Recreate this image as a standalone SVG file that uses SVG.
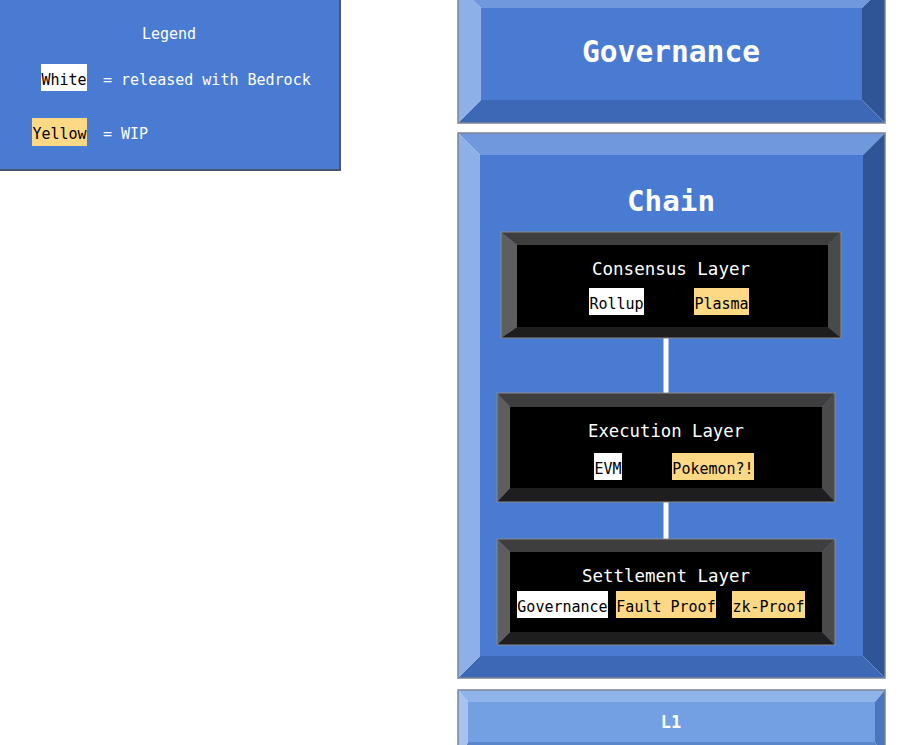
<svg xmlns="http://www.w3.org/2000/svg" width="900" height="745" viewBox="0 0 900 745">
<style>
.t{font-family:"DejaVu Sans Mono","Liberation Mono",monospace;fill:#ffffff;text-anchor:middle}
.s{font-size:15px}
.l{font-family:"DejaVu Sans Mono","Liberation Mono",monospace;font-size:15px;fill:#000000;text-anchor:middle}
.bt{fill:#6f98dd}.bl{fill:#8db0e8}.br{fill:#2f5597}.bb{fill:#3d68b6}.bf{fill:#4a7bd3}
.kt{fill:#3e3e3e}.kl{fill:#5e5e5e}.kr{fill:#4a4a4a}.kb{fill:#1e1e1e}.kf{fill:#000000}
.edge{fill:none;stroke:#7d8594;stroke-width:1.5}
.wp{fill:#ffffff}.yp{fill:#fdd985}
</style>
<rect width="900" height="745" fill="#ffffff"/>

<g id="legend">
<rect x="-2" y="-2" width="342" height="172" fill="#4a7bd3" stroke="#6b7890" stroke-width="2"/>
<path d="M340,-2 V170 H-2" fill="none" stroke="#4a5670" stroke-width="2"/>
<text class="t s" x="169" y="39">Legend</text>
<rect class="wp" x="41" y="64" width="46" height="27"/>
<text class="l" x="64" y="85">White</text>
<text class="t s" x="103" y="85" style="text-anchor:start">= released with Bedrock</text>
<rect class="yp" x="32" y="118" width="55" height="28"/>
<text class="l" x="59.5" y="139">Yellow</text>
<text class="t s" x="103" y="139" style="text-anchor:start">= WIP</text>
</g>

<g id="governance">
<rect class="bf" x="481" y="8" width="381" height="92"/>
<polygon class="bt" points="458,-14 885,-14 862,8 481,8"/>
<polygon class="br" points="885,-14 885,123 862,100 862,8"/>
<polygon class="bb" points="458,123 885,123 862,100 481,100"/>
<polygon class="bl" points="458,-14 481,8 481,100 458,123"/>
<rect class="edge" x="458" y="-14" width="427" height="137"/>
<text class="t" x="671" y="62" font-size="30" font-weight="bold" textLength="178" lengthAdjust="spacingAndGlyphs">Governance</text>
</g>

<g id="chain">
<rect class="bf" x="480" y="155" width="383" height="501"/>
<polygon class="bt" points="458,133 885,133 863,155 480,155"/>
<polygon class="br" points="885,133 885,678 863,656 863,155"/>
<polygon class="bb" points="458,678 885,678 863,656 480,656"/>
<polygon class="bl" points="458,133 480,155 480,656 458,678"/>
<rect class="edge" x="458" y="133" width="427" height="545"/>
<text class="t" x="671" y="211" font-size="29" font-weight="bold" textLength="88" lengthAdjust="spacingAndGlyphs">Chain</text>
</g>

<g id="connectors">
<line x1="666" y1="338" x2="666" y2="394" stroke="#ffffff" stroke-width="5"/>
<line x1="666" y1="502" x2="666" y2="540" stroke="#ffffff" stroke-width="5"/>
</g>

<g id="consensus">
<rect class="kf" x="517" y="245" width="311" height="82"/>
<polygon class="kt" points="501,232 841,232 828,245 517,245"/>
<polygon class="kr" points="841,232 841,338 828,327 828,245"/>
<polygon class="kb" points="501,338 841,338 828,327 517,327"/>
<polygon class="kl" points="501,232 517,245 517,327 501,338"/>
<rect x="501" y="232" width="340" height="106" fill="none" stroke="#8a8a8a" stroke-width="1"/>
<text class="t" x="671" y="275" font-size="17.5" textLength="158" lengthAdjust="spacingAndGlyphs">Consensus Layer</text>
<rect class="wp" x="589" y="288" width="55" height="27"/>
<text class="l" x="616.5" y="309">Rollup</text>
<rect class="yp" x="694" y="288" width="55" height="27"/>
<text class="l" x="721.5" y="309">Plasma</text>
</g>

<g id="execution">
<rect class="kf" x="510" y="407" width="312" height="81"/>
<polygon class="kt" points="497,393 835,393 822,407 510,407"/>
<polygon class="kr" points="835,393 835,502 822,488 822,407"/>
<polygon class="kb" points="497,502 835,502 822,488 510,488"/>
<polygon class="kl" points="497,393 510,407 510,488 497,502"/>
<rect x="497" y="393" width="338" height="109" fill="none" stroke="#8a8a8a" stroke-width="1"/>
<text class="t" x="666" y="437" font-size="17.5" textLength="156" lengthAdjust="spacingAndGlyphs">Execution Layer</text>
<rect class="wp" x="594" y="453" width="28" height="27"/>
<text class="l" x="608" y="474">EVM</text>
<rect class="yp" x="672" y="453" width="82" height="27"/>
<text class="l" x="713" y="474">Pokemon?!</text>
</g>

<g id="settlement">
<rect class="kf" x="510" y="552" width="312" height="80"/>
<polygon class="kt" points="497,539 835,539 822,552 510,552"/>
<polygon class="kr" points="835,539 835,645 822,632 822,552"/>
<polygon class="kb" points="497,645 835,645 822,632 510,632"/>
<polygon class="kl" points="497,539 510,552 510,632 497,645"/>
<rect x="497" y="539" width="338" height="106" fill="none" stroke="#8a8a8a" stroke-width="1"/>
<text class="t" x="666" y="582" font-size="17.5" textLength="168" lengthAdjust="spacingAndGlyphs">Settlement Layer</text>
<rect class="wp" x="517" y="591" width="91" height="27"/>
<text class="l" x="562.5" y="612">Governance</text>
<rect class="yp" x="616" y="591" width="100" height="27"/>
<text class="l" x="666" y="612">Fault Proof</text>
<rect class="yp" x="732" y="591" width="73" height="27"/>
<text class="l" x="768.5" y="612">zk-Proof</text>
</g>

<g id="l1">
<rect x="468" y="702" width="407" height="40" fill="#73a0e3"/>
<polygon points="458,690 885,690 875,702 468,702" fill="#8fb4ea"/>
<polygon points="885,690 885,760 875,742 875,702" fill="#4a74bb"/>
<polygon points="458,760 885,760 875,742 468,742" fill="#5a86cc"/>
<polygon points="458,690 468,702 468,742 458,760" fill="#a6c3ef"/>
<rect class="edge" x="458" y="690" width="427" height="70"/>
<text class="t" x="671" y="728" font-size="17" font-weight="bold">L1</text>
</g>
</svg>
